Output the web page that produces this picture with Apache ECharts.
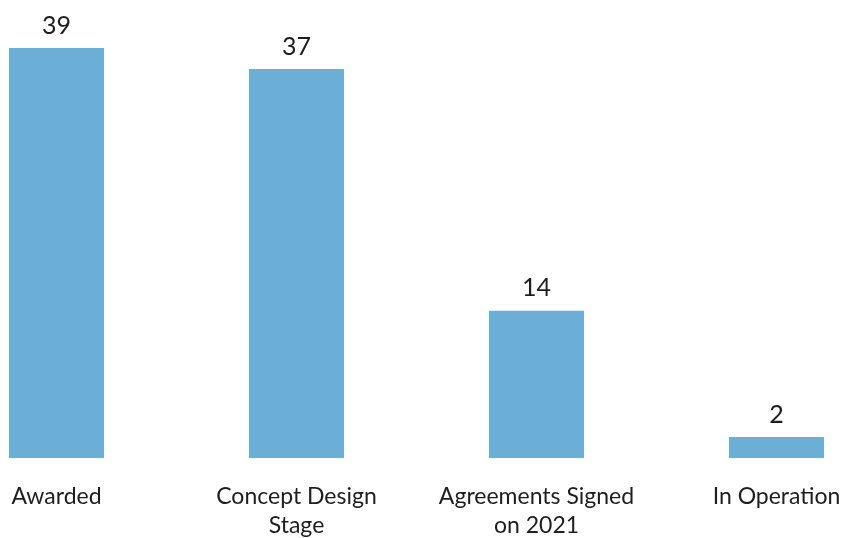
<!DOCTYPE html>
<html>
<head>
<meta charset="utf-8">
<script src="https://cdn.jsdelivr.net/npm/echarts@6/dist/echarts.min.js"></script>
<style>
  html, body { margin: 0; padding: 0; background: #fff; }
  #chart { width: 844px; height: 538px; }
</style>
</head>
<body>
<div id="chart"></div>
<script>
// Project counts by stage
const categories = ['Awarded', 'Concept Design\nStage', 'Agreements Signed\non 2021', 'In Operation'];
const counts = [39, 37, 14, 2];

const FONT = 'Lato';
const chart = echarts.init(document.getElementById('chart'), null, { renderer: 'canvas' });

chart.setOption({
  animation: false,
  backgroundColor: '#ffffff',
  grid: {
    left: 56.5, right: 67.5, top: 37.5, bottom: 80,
    containLabel: false,
    outerBoundsMode: 'none'
  },
  xAxis: {
    type: 'category',
    data: categories,
    boundaryGap: false,
    axisLine: { show: false },
    axisTick: { show: false },
    axisLabel: {
      interval: 0,
      margin: 24,
      color: '#1e1e1e',
      fontFamily: FONT,
      fontWeight: 400,
      fontSize: 23,
      lineHeight: 29,
      align: 'center'
    }
  },
  yAxis: {
    type: 'value',
    min: 0,
    max: 40,
    show: false,
    splitLine: { show: false }
  },
  series: [{
    type: 'bar',
    data: counts,
    barWidth: 95,
    itemStyle: { color: '#6baed6' },
    label: {
      show: true,
      position: 'top',
      distance: 10,
      color: '#1e1e1e',
      fontFamily: FONT,
      fontWeight: 400,
      fontSize: 25
    }
  }]
});
</script>
</body>
</html>
